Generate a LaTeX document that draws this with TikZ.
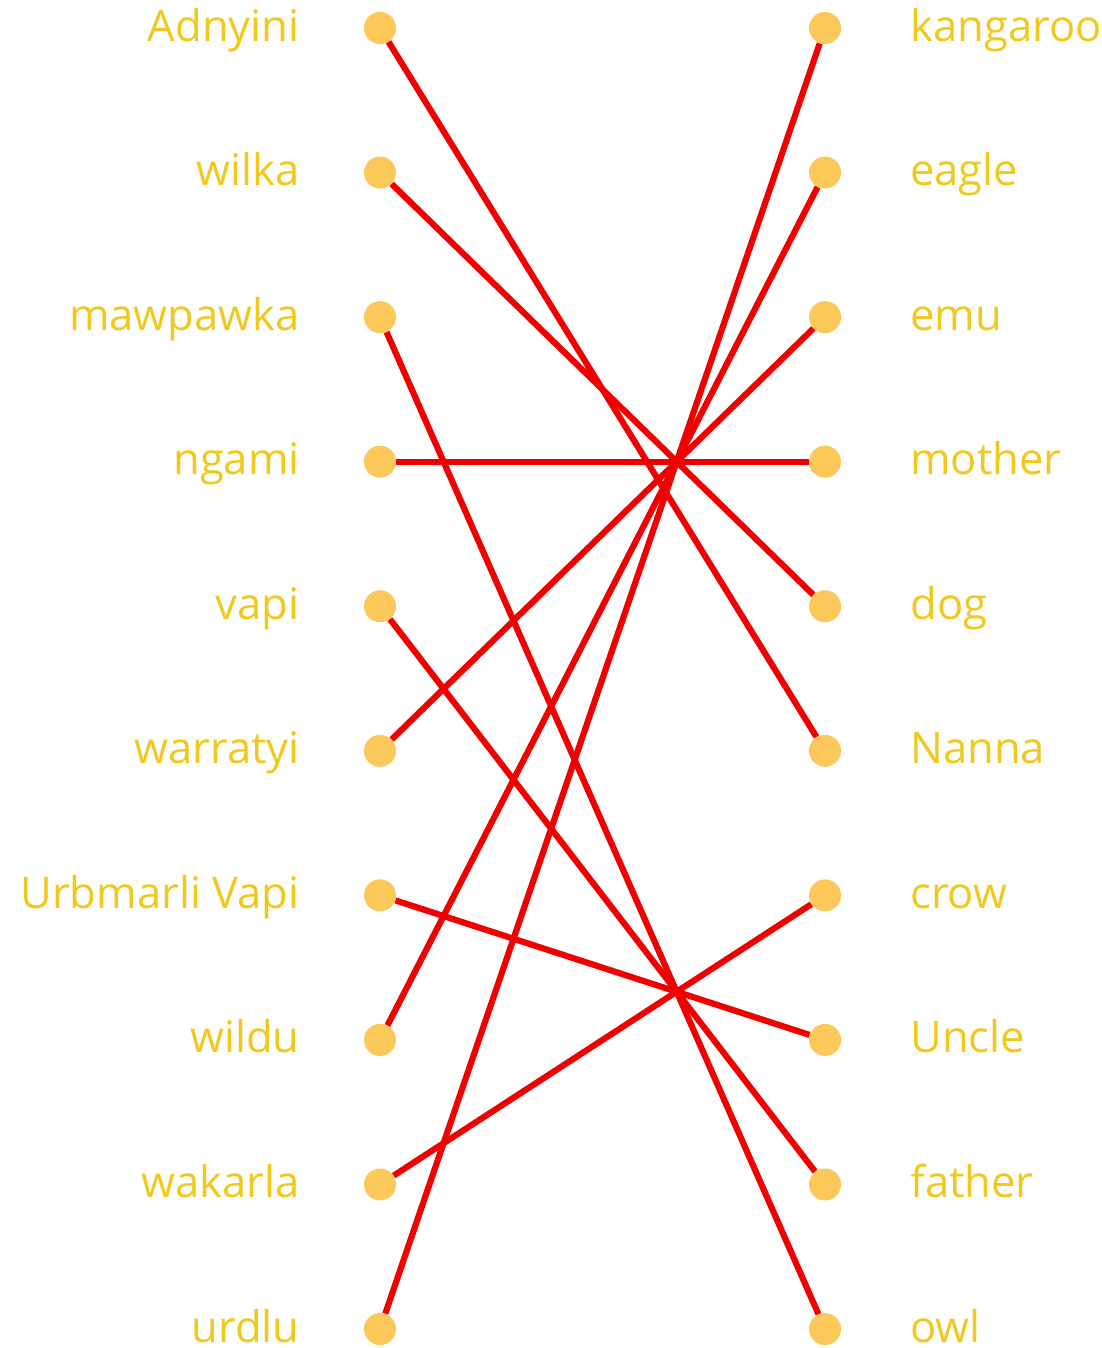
\documentclass[tikz,border=0pt]{standalone}
\usepackage{fontspec}
\setmainfont{Open Sans}
\usetikzlibrary{arrows,positioning,calc}
\definecolor{wordcol}{RGB}{240,200,30}
\definecolor{dotcol}{RGB}{253,200,90}
\definecolor{linkcol}{RGB}{240,0,0}
\begin{document}
\begin{tikzpicture}[x=0.025cm,y=-0.025cm,
  dot/.style={circle,fill=dotcol,minimum size=0.8cm,inner sep=0pt},
  word/.style={text=wordcol,font=\fontsize{31}{36}\selectfont,inner sep=0pt},
  link/.style={draw=linkcol,line width=4.4pt}]
\useasboundingbox (0,0) rectangle (1101,1348);
\foreach \name [count=\i from 0] in {Adnyini,wilka,mawpawka,ngami,vapi,warratyi,Urbmarli Vapi,wildu,wakarla,urdlu}{
  \node [dot] (l\i) at (380,28+144.56*\i) {};
  \node [word,anchor=base east] (lw\i) at (300,41+144.56*\i) {\name};
}
\foreach \name [count=\i from 0] in {kangaroo,eagle,emu,mother,dog,Nanna,crow,Uncle,father,owl}{
  \node [dot] (r\i) at (825,28+144.56*\i) {};
  \node [word,anchor=base west] (rw\i) at (910,41+144.56*\i) {\name};
}
\draw [link] (l0) -- (r5);
\draw [link] (l1) -- (r4);
\draw [link] (l2) -- (r9);
\draw [link] (l3) -- (r3);
\draw [link] (l4) -- (r8);
\draw [link] (l5) -- (r2);
\draw [link] (l6) -- (r7);
\draw [link] (l7) -- (r1);
\draw [link] (l8) -- (r6);
\draw [link] (l9) -- (r0);
\end{tikzpicture}
\end{document}
